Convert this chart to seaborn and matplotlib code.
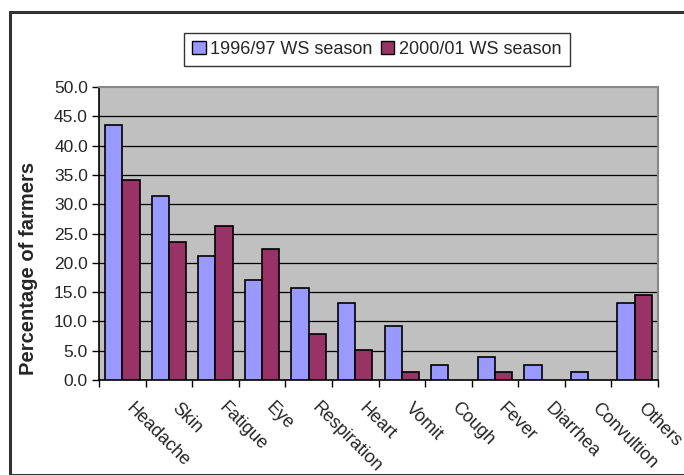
import matplotlib
matplotlib.use("Agg")
import matplotlib.pyplot as plt
import matplotlib.transforms as mtransforms
import seaborn as sns
import pandas as pd
import numpy as np
from matplotlib.patches import Rectangle, Patch
from matplotlib.ticker import FixedLocator, FormatStrFormatter

categories = ["Headache", "Skin", "Fatigue", "Eye", "Respiration", "Heart",
              "Vomit", "Cough", "Fever", "Diarrhea", "Convultion", "Others"]
season_1996 = [43.6, 31.4, 21.1, 17.1, 15.7, 13.2, 9.2, 2.6, 3.9, 2.6, 1.3, 13.2]
season_2000 = [34.2, 23.6, 26.3, 22.4, 7.8, 5.2, 1.3, 0.0, 1.3, 0.0, 0.0, 14.5]
series_names = ["1996/97 WS season", "2000/01 WS season"]
colors = ["#9999FF", "#993366"]
y_ticks = [0, 5, 10, 15, 20, 25, 30, 35, 40, 45, 50]

df = pd.DataFrame({
    "Symptom": categories * 2,
    "Value": season_1996 + season_2000,
    "Season": [series_names[0]] * len(categories) + [series_names[1]] * len(categories),
})

sns.set_style("white")
plt.rcParams["font.family"] = ["Liberation Sans", "DejaVu Sans"]

fig = plt.figure(figsize=(6.84, 4.75), dpi=100)
ax = fig.add_axes([99 / 684, 1 - 380 / 475, (658 - 99) / 684, (380 - 87) / 475])
ax.set_facecolor("#C0C0C0")

sns.barplot(data=df, x="Symptom", y="Value", hue="Season", order=categories,
            hue_order=series_names, palette=colors,
            width=0.74, edgecolor="black", linewidth=1.2, saturation=1,
            ax=ax, zorder=3, legend=False)

# no outline for zero-height bars
for p in ax.patches:
    if p.get_height() == 0:
        p.set_linewidth(0)

ax.set_ylim(0, 50)
ax.set_xlim(-0.5, len(categories) - 0.5)
ax.yaxis.set_major_locator(FixedLocator(y_ticks))
ax.yaxis.set_major_formatter(FormatStrFormatter("%.1f"))
for y in y_ticks[1:-1]:
    ax.axhline(y, color="black", linewidth=0.9, zorder=1)

ax.set_xlabel("")
ax.set_ylabel("Percentage of farmers", fontsize=14.5, fontweight="bold")
ax.yaxis.set_label_coords(-0.109, 0.382)

ax.tick_params(axis="y", which="major", direction="out", length=5, width=1,
               color="black", labelsize=12.5, pad=3, left=True)
ax.set_xticks(range(len(categories)))
ax.set_xticklabels(categories, rotation=-45, ha="left", va="top",
                   rotation_mode="anchor", fontsize=13)
ax.tick_params(axis="x", which="major", length=0, pad=14)
offset = mtransforms.ScaledTranslation(12 / 100, 0, fig.dpi_scale_trans)
for lbl in ax.get_xticklabels():
    lbl.set_transform(lbl.get_transform() + offset)
ax.set_xticks(np.arange(-0.5, len(categories), 1.0), minor=True)
ax.tick_params(axis="x", which="minor", direction="out", length=5, width=1,
               color="black", bottom=True)

for side in ["left", "bottom"]:
    ax.spines[side].set_color("black")
    ax.spines[side].set_linewidth(1.2)
for side in ["top", "right"]:
    ax.spines[side].set_color("#888888")
    ax.spines[side].set_linewidth(1.5)
    ax.spines[side].set_visible(True)

handles = [Patch(facecolor=c, edgecolor="black", linewidth=1.0) for c in colors]
leg = ax.legend(handles, series_names, loc="lower center",
                bbox_to_anchor=(0.497, 1.072), ncol=2,
                frameon=True, fancybox=False, edgecolor="black",
                fontsize=13, handlelength=0.75, handleheight=0.7,
                handletextpad=0.25, columnspacing=0.45, borderpad=0.45,
                borderaxespad=0)
leg.get_frame().set_linewidth(1.0)

fig.patches.append(Rectangle((10 / 684, 0), 1.0, 1 - 12 / 475,
                             transform=fig.transFigure, fill=False,
                             edgecolor="#333333", linewidth=2.2))

fig.savefig("out.png", dpi=100)
